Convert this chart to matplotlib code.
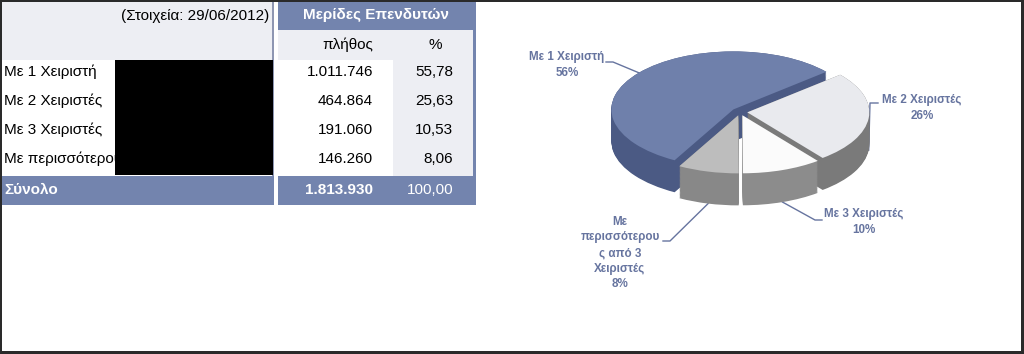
import numpy as np
import matplotlib
matplotlib.use("Agg")
import matplotlib.pyplot as plt
from matplotlib.patches import Rectangle
from matplotlib import font_manager

# ---------------- data ----------------
categories = ['Με 1 Χειριστή', 'Με 2 Χειριστές', 'Με 3 Χειριστές',
              'Με περισσότερους από 3 Χειριστές']
counts = [1011746, 464864, 191060, 146260]
count_labels = ['1.011.746', '464.864', '191.060', '146.260']
pct_labels = ['55,78', '25,63', '10,53', '8,06']
total_label = '1.813.930'
total_pct = '100,00'
pie_labels = ['Με 1 Χειριστή\n56%', 'Με 2 Χειριστές\n26%', 'Με 3 Χειριστές\n10%',
              'Με\nπερισσότερου\nς από 3\nΧειριστές\n8%']

# ---------------- style ----------------
BLUE = '#7384AE'
LIGHT = '#EDEEF3'
LBL = '#66749F'
top_cols = ['#6F80AB', '#E9EAEE', '#FBFBFB', '#BDBDBD']
wall_cols = ['#4B5A84', '#7A7A7A', '#8C8C8C', '#888888']

names = [f.name for f in font_manager.fontManager.ttflist]
narrow = 'Liberation Sans Narrow' in names
plt.rcParams['font.family'] = ['Liberation Sans', 'DejaVu Sans']

W, H = 1024, 354
fig = plt.figure(figsize=(W / 100, H / 100), dpi=100)
ax = fig.add_axes([0, 0, 1, 1])
ax.set_xlim(0, W)
ax.set_ylim(H, 0)
ax.axis('off')

def rect(x0, y0, x1, y1, c, z=1):
    ax.add_patch(Rectangle((x0, y0), x1 - x0, y1 - y0, color=c, lw=0, zorder=z))

# ---------------- table ----------------
rect(1, 1, 274, 60, LIGHT)
rect(0, 176, 274, 205, BLUE)
rect(272, 0, 274, 176, '#8E96B2')
rect(278, 0, 476, 30, BLUE)
rect(278, 30, 473, 60, LIGHT)
rect(393, 60, 473, 176, LIGHT)
rect(473, 30, 476, 205, BLUE)
rect(278, 176, 476, 205, BLUE)
rect(0, 0, 2, 176, '#8E96B2')
rect(0, 0, 274, 1.5, '#8E96B2')

fs = 11
ax.text(269, 16, '(Στοιχεία: 29/06/2012)', ha='right', va='center', fontsize=fs)
ax.text(376, 15, 'Μερίδες Επενδυτών', ha='center', va='center', fontsize=fs,
        color='white', fontweight='bold')
ax.text(373, 45, 'πλήθος', ha='right', va='center', fontsize=fs)
ax.text(435, 45, '%', ha='center', va='center', fontsize=fs)
for i, (cat, c, p) in enumerate(zip(categories, count_labels, pct_labels)):
    y = 72 + i * 29
    ax.text(4, y, cat, ha='left', va='center', fontsize=fs, zorder=1)
    ax.text(373, y, c, ha='right', va='center', fontsize=fs)
    ax.text(453, y, p, ha='right', va='center', fontsize=fs)
# redaction block covers the long label
rect(115, 60, 273, 175, 'black', z=2)
ax.text(4, 190, 'Σύνολο', ha='left', va='center', fontsize=fs, color='white',
        fontweight='bold')
ax.text(373, 190, total_label, ha='right', va='center', fontsize=fs,
        color='white', fontweight='bold')
ax.text(453, 190, total_pct, ha='right', va='center', fontsize=fs, color='white')

# ---------------- 3D pie ----------------
cx, cy, rx, ry, depth_px = 740, 112, 122, 58, 32
xl, yl = (-1.4, 1.4), (-2.0, 1.3)
pw, ph = (xl[1] - xl[0]) * rx, (yl[1] - yl[0]) * ry
left = cx + xl[0] * rx
bottom = H - (cy - yl[0] * ry)
pax = fig.add_axes([left / W, bottom / H, pw / W, ph / H])
depth = depth_px / ry
explode = [0.07, 0.06, 0.06, 0.06]
start = 241.2

for dz in np.linspace(depth, 0, 40):
    pax.pie(counts, explode=explode, startangle=start, counterclock=False,
            colors=wall_cols, center=(0, -dz), wedgeprops=dict(lw=0))
wedges, _ = pax.pie(counts, explode=explode, startangle=start, counterclock=False,
                    colors=top_cols, center=(0, 0), wedgeprops=dict(lw=0))
pax.set_aspect('auto')
pax.set_xlim(*xl)
pax.set_ylim(*yl)
pax.axis('off')

# labels and leader lines
lbl_font = ['Liberation Sans Narrow', 'DejaVu Sans'] if narrow else ['Liberation Sans', 'DejaVu Sans']
lbl_size = 9.5 if narrow else 8.4
label_pos = [(567, 65), (922, 108), (864, 222), (620, 253)]
elbow = [(606, 613, 62), (878, 870, 103), (822, 815, 220), (663, 670, 241)]
for w, lab, (tx, ty), (ex0, ex1, ey) in zip(wedges, pie_labels, label_pos, elbow):
    th = np.deg2rad((w.theta1 + w.theta2) / 2)
    wx, wy = w.center
    px_, py_ = wx + np.cos(th), wy + np.sin(th)
    if np.sin(th) < 0:
        py_ -= depth
    disp = pax.transData.transform((px_, py_))
    ax_x, ax_y = ax.transData.inverted().transform(disp)
    ax.plot([ex0, ex1, ax_x], [ey, ey, ax_y], color=LBL, lw=1)
    ax.text(tx, ty, lab, ha='center', va='center', fontsize=lbl_size, color=LBL,
            fontweight='bold', family=lbl_font, linespacing=1.4)

# outer frame
for xy, wdt, hgt in [((0, 0), W, 2), ((0, H - 3), W, 3), ((0, 0), 1.5, H), ((W - 3, 0), 3, H)]:
    ax.add_patch(Rectangle(xy, wdt, hgt, color='#2A2A2A', lw=0, zorder=5))

fig.savefig('out.png', dpi=100)
